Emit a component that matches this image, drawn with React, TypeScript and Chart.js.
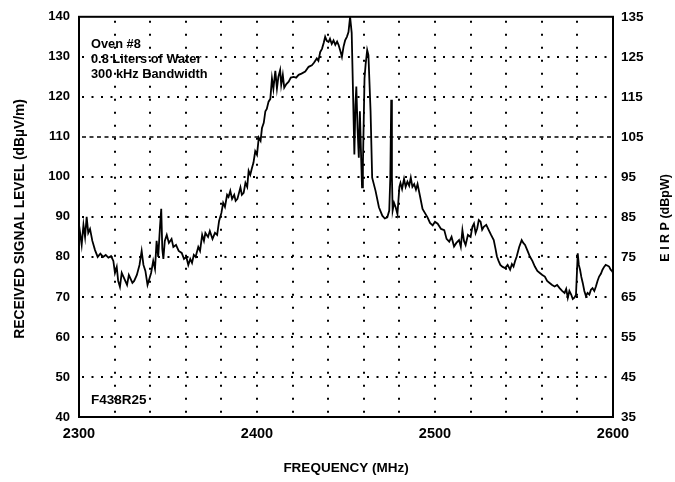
import React, { useEffect, useRef } from 'react';
import { Chart, registerables } from 'chart.js';

Chart.register(...registerables);

// ---- data ----
const freqMHz = [
  2300, 2300.6, 2301.5, 2302.5, 2303.4, 2304.3, 2305.2, 2306.2, 2307.5, 2309, 2310.5, 2312, 2313.5, 2315, 2316.5, 2318, 2319.3,
  2320.2, 2321.2, 2322, 2323, 2324, 2325, 2326, 2327, 2328, 2329, 2330, 2331, 2332.5, 2334, 2335.2, 2336.2, 2337.3, 2338.5,
  2339.5, 2340.5, 2341.7, 2342.7, 2343.6, 2344.5, 2345.5, 2346.2, 2346.8, 2347.4, 2348.2, 2349.3, 2350.5, 2352, 2353, 2354.5,
  2356, 2357.7, 2359, 2360.3, 2361.4, 2362.5, 2363.5, 2364.5, 2365.5, 2367, 2368, 2369.2, 2370.2, 2371, 2372.5, 2373.5, 2375,
  2376.4, 2377.6, 2378.7, 2380, 2381, 2382, 2383.2, 2384, 2385, 2386, 2387.2, 2388, 2389, 2390.7, 2391.5, 2392.5, 2393.5,
  2394.5, 2395.3, 2396.2, 2397.2, 2398, 2399, 2400, 2401, 2402, 2402.8, 2403.8, 2404.7, 2405.5, 2406.5, 2407.5, 2408.4, 2409.2,
  2410.3, 2411.2, 2412, 2413, 2413.6, 2414.5, 2415.3, 2416.5, 2417.8, 2419, 2420.6, 2422, 2423.4, 2425, 2427.1, 2429, 2430.8,
  2432, 2433.6, 2434.5, 2435.5, 2436.5, 2437.5, 2438.3, 2439.2, 2440.2, 2441, 2442, 2443, 2444, 2445, 2445.8, 2446.8, 2447.7,
  2448.6, 2449.5, 2450.5, 2451.4, 2452.3, 2453.2, 2454, 2454.7, 2455.3, 2455.8, 2456.5, 2457.2, 2457.8, 2458.3, 2459, 2459.5,
  2460.4, 2461, 2461.9, 2462.6, 2463.8, 2464.7, 2466.6, 2468.5, 2470.4, 2471.8, 2473.2, 2474.3, 2474.9, 2475.4, 2475.8, 2476.2,
  2477, 2477.9, 2478.9, 2480, 2480.6, 2481.5, 2482.6, 2483.5, 2484.5, 2485.5, 2486.4, 2487.3, 2488.3, 2489.3, 2490.2, 2491.7,
  2493, 2494.3, 2495.8, 2497.2, 2498.7, 2500, 2501.5, 2503.4, 2505.2, 2506.5, 2508, 2509.3, 2510.7, 2512, 2513.5, 2514.5,
  2515.4, 2516.3, 2517.2, 2518.5, 2520, 2521, 2521.9, 2522.8, 2523.7, 2524.6, 2525.6, 2526.5, 2527.4, 2528.8, 2530.2, 2531.5,
  2533, 2534, 2534.8, 2535.7, 2536.7, 2538, 2539.4, 2540.8, 2542.2, 2543.2, 2544.1, 2545, 2545.9, 2547.3, 2548.7, 2549.6,
  2550.6, 2552, 2553.3, 2554.7, 2556.1, 2557.5, 2558.9, 2560.3, 2561.7, 2563, 2564.4, 2565.8, 2567.2, 2568.6, 2570, 2571.4,
  2572.8, 2573.7, 2574.6, 2575.5, 2576.5, 2577.4, 2578.3, 2579.2, 2580.2, 2580.8, 2581.5, 2582.2, 2583, 2583.9, 2584.8, 2585.7,
  2586.7, 2587.6, 2588.5, 2589.5, 2590.4, 2591.3, 2592.2, 2593.2, 2594.1, 2595, 2595.9, 2597, 2597.8, 2598.7, 2599.6, 2600,
];

const signalLevel = [
  84, 86, 83, 88, 85, 90, 86, 87, 84, 81.7, 80, 80.8, 80, 80.5, 79.8, 80.2, 79,
  76, 77.5, 74, 72.5, 76, 75, 74, 73, 75.5, 74.5, 73.5, 74, 75.5, 78, 81.5, 78, 76.5, 73,
  74.5, 76, 79, 77, 84, 80, 87.5, 92, 82, 79.5, 84, 85.5, 83.5, 84.5, 82.5, 83,
  81.5, 81, 79.5, 80, 78, 79.5, 78.5, 80.5, 80, 82.5, 81.5, 85.5, 84, 86, 85, 86.5, 84.5,
  86, 85.5, 89, 91, 93.5, 92.5, 95.5, 95, 96.5, 94.5, 95.5, 94, 94.5, 97.4, 95.5, 96, 98.5,
  97.5, 101.5, 100.5, 102.3, 103.5, 106.4, 105.5, 109.8, 109, 112.2, 113.5, 116.4, 117, 118.8, 119.5, 124.6, 122,
  126.5, 122.1, 125, 126.7, 123, 125.5, 122.3, 123.2, 123.8, 124.8, 125, 124.8, 125.5, 125.8, 126.3, 127.5, 127.9,
  128.5, 129.6, 129, 131.2, 132, 133.5, 135, 134, 133.7, 134.5, 133.2, 134.1, 133, 133.8, 133, 131.5, 130,
  132.5, 134.1, 135, 136.2, 140, 136, 120, 105.6, 118, 122.6, 112, 104.8, 116.4, 108, 97.4, 103,
  124.6, 128, 131.7, 130.4, 116.4, 99.8, 96.5, 92.4, 90.3, 89.6, 89.9, 91.6, 100, 119.3, 100, 91.6,
  93.5, 92.4, 90.7, 97.5, 98.5, 97, 99.5, 97.5, 98.8, 97.8, 99.8, 97.5, 98.2, 96.8, 98.2, 94.9,
  92, 91, 89.9, 88.5, 87.9, 88.8, 88.3, 87, 86.7, 84.5, 83.8, 85, 82.6, 83.5, 84.2, 82.5,
  86.7, 84, 83, 85.5, 85, 87.5, 88.3, 86, 87.1, 89.2, 88.8, 86.8, 87.5, 88, 86.7, 85.5,
  84.2, 82, 80.1, 79, 78, 77.5, 77.2, 78, 76.8, 78.2, 77.6, 79, 80.1, 82.5, 84.2, 83.5,
  83, 81.5, 80.1, 79, 77.6, 76.5, 76, 75.5, 75.1, 74, 73.5, 73, 72.6, 73, 72.2, 71.5,
  71, 72, 69.8, 71.5, 70.6, 69.5, 69.8, 70.5, 80.9, 78, 76.8, 75, 73.5, 71.5, 70.2, 71,
  70.6, 71.8, 72.2, 71.5, 72.6, 74, 75.1, 75.8, 76.8, 77.5, 78, 77.8, 77.6, 76.8, 76.4, 76,
];

const xRange = [2300, 2600];
const xLabelStep = 100;
const xGridStep = 20;
const leftRange = [40, 140];
const rightRange = [35, 135];
const yStep = 10;
const dashedLevel = 110;

const noteLines = ['Oven #8', '0.8 Liters of Water', '300 kHz Bandwidth'];
const plotId = 'F438R25';
const xTitle = 'FREQUENCY (MHz)';
const yTitle = 'RECEIVED SIGNAL LEVEL (dB\u00B5V/m)';
const y2Title = 'E I R P (dBpW)';

const FONT = "'Liberation Sans', Arial, Helvetica, sans-serif";

const decorPlugin = {
  id: 'decor',
  beforeDatasetsDraw(chart: any) {
    const { ctx, chartArea: a, scales } = chart;
    const xs = scales.x;
    const ys = scales.y;
    ctx.save();
    ctx.strokeStyle = '#000';
    ctx.lineWidth = 2;
    ctx.setLineDash([2, 11]);
    for (let v = xRange[0] + xGridStep; v < xRange[1]; v += xGridStep) {
      const px = Math.round(xs.getPixelForValue(v));
      ctx.beginPath();
      ctx.moveTo(px, a.top + 4);
      ctx.lineTo(px, a.bottom);
      ctx.stroke();
    }
    for (let v = leftRange[0] + yStep; v < leftRange[1]; v += yStep) {
      const py = Math.round(ys.getPixelForValue(v));
      if (v === dashedLevel) {
        ctx.lineWidth = 1.3;
        ctx.setLineDash([4, 3.5]);
      } else {
        ctx.lineWidth = 2;
        ctx.setLineDash([2, 7.5]);
      }
      ctx.beginPath();
      ctx.moveTo(a.left + 3, py);
      ctx.lineTo(a.right, py);
      ctx.stroke();
    }
    ctx.restore();
  },
  afterDatasetsDraw(chart: any) {
    const { ctx, chartArea: a } = chart;
    ctx.save();
    ctx.setLineDash([]);
    ctx.strokeStyle = '#000';
    ctx.lineWidth = 2;
    ctx.strokeRect(a.left, a.top, a.right - a.left, a.bottom - a.top);

    ctx.fillStyle = '#000';
    ctx.textBaseline = 'alphabetic';
    ctx.textAlign = 'left';
    ctx.font = `bold 12.8px ${FONT}`;
    noteLines.forEach((t, i) => ctx.fillText(t, a.left + 12, a.top + 31 + i * 15));
    ctx.font = `bold 13.5px ${FONT}`;
    ctx.fillText(plotId, a.left + 12, a.bottom - 13);

    // axis titles
    ctx.textAlign = 'center';
    ctx.textBaseline = 'middle';
    ctx.font = `bold 13.5px ${FONT}`;
    ctx.fillText(xTitle, (a.left + a.right) / 2, 468);

    const cy = (a.top + a.bottom) / 2;
    ctx.font = `bold 13.8px ${FONT}`;
    ctx.save();
    ctx.translate(20, cy + 2);
    ctx.rotate(-Math.PI / 2);
    ctx.fillText(yTitle, 0, 0);
    ctx.restore();

    ctx.font = `bold 12.5px ${FONT}`;
    ctx.save();
    ctx.translate(666, cy + 1);
    ctx.rotate(-Math.PI / 2);
    ctx.fillText(y2Title, 0, 0);
    ctx.restore();

    ctx.restore();
  },
};

export default function App() {
  const ref = useRef<HTMLCanvasElement | null>(null);

  useEffect(() => {
    if (!ref.current) return;
    const points = freqMHz.map((f, i) => ({ x: f, y: signalLevel[i] }));
    const chart = new Chart(ref.current, {
      type: 'line',
      data: {
        datasets: [
          {
            data: points,
            borderColor: '#000',
            borderWidth: 1.8,
            pointRadius: 0,
            tension: 0,
            fill: false,
            yAxisID: 'y',
          },
        ],
      },
      options: {
        animation: false,
        responsive: true,
        maintainAspectRatio: false,
        parsing: false as any,
        layout: { padding: { top: 15, left: 0, right: 0, bottom: 0 } },
        plugins: { legend: { display: false }, tooltip: { enabled: false } },
        scales: {
          x: {
            type: 'linear',
            min: xRange[0],
            max: xRange[1],
            grid: { display: false, drawTicks: false },
            border: { display: false },
            ticks: {
              stepSize: xLabelStep,
              maxRotation: 0,
              autoSkip: false,
              padding: 8,
              color: '#000',
              font: { family: FONT, size: 14.5, weight: 'bold' },
              callback: (v: any) => String(v),
            },
            afterFit: (s: any) => {
              s.height = 65;
            },
          },
          y: {
            position: 'left',
            min: leftRange[0],
            max: leftRange[1],
            grid: { display: false, drawTicks: false },
            border: { display: false },
            ticks: {
              stepSize: yStep,
              padding: 9,
              color: '#000',
              font: { family: FONT, size: 13, weight: 'bold' },
            },
            afterFit: (s: any) => {
              s.width = 79;
            },
          },
          y1: {
            position: 'right',
            min: rightRange[0],
            max: rightRange[1],
            grid: { display: false, drawTicks: false },
            border: { display: false },
            ticks: {
              stepSize: yStep,
              padding: 8,
              color: '#000',
              font: { family: FONT, size: 13.5, weight: 'bold' },
            },
            afterFit: (s: any) => {
              s.width = 62;
            },
          },
        },
      },
      plugins: [decorPlugin],
    });
    return () => chart.destroy();
  }, []);

  return (
    <div style={{ position: 'absolute', left: 0, top: 0, width: 675, height: 482, background: '#fff' }}>
      <canvas ref={ref} />
    </div>
  );
}
